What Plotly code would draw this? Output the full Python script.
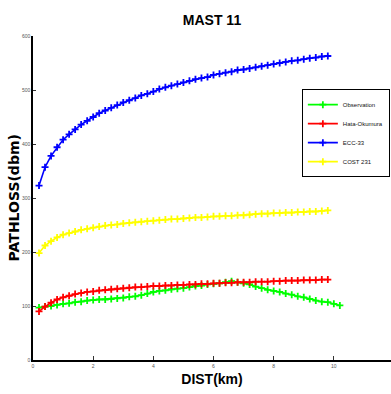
import plotly.graph_objects as go

# Distance grids (km)
dist_obs = [round(0.2 * i, 1) for i in range(1, 52)]      # 0.2 .. 10.2
dist_model = [round(0.2 * i, 1) for i in range(1, 50)]    # 0.2 .. 9.8

# Path loss values (dBm)
observation = [97, 99, 100, 102, 104, 105, 107, 108, 110, 111,
               112, 112, 113, 114, 115, 117, 118, 120, 123, 126,
               128, 129, 131, 132, 133, 135, 137, 138, 140, 141,
               142, 144, 146, 144, 142, 140, 136, 133, 130, 128,
               126, 123, 121, 118, 116, 113, 110, 108, 107, 104, 101]
hata_okumura = [90, 99, 106, 112, 116, 119, 122, 124, 126, 127,
                129, 130, 131, 132, 133, 134, 135, 135, 136, 137,
                137, 138, 138, 139, 139, 140, 140, 141, 141, 142,
                142, 143, 143, 144, 144, 144, 145, 145, 145, 146,
                146, 147, 147, 147, 148, 148, 148, 149, 149]
ecc33 = [323, 357, 378, 394, 408, 418, 427, 436, 443, 450,
         457, 462, 467, 472, 477, 481, 485, 490, 493, 497,
         502, 505, 508, 511, 514, 517, 520, 522, 524, 528,
         530, 532, 534, 537, 538, 540, 542, 544, 546, 548,
         550, 552, 554, 555, 557, 559, 560, 562, 563]
cost231 = [198, 212, 220, 227, 232, 235, 238, 241, 243, 245,
           247, 249, 250, 251, 253, 254, 255, 256, 257, 258,
           259, 260, 261, 261, 262, 263, 264, 264, 265, 266,
           266, 267, 267, 268, 268, 269, 270, 271, 271, 272,
           272, 273, 273, 274, 274, 275, 275, 276, 277]

series = [
    ("Observation", dist_obs, observation, "#00ff00"),
    ("Hata-Okumura", dist_model, hata_okumura, "#ff0000"),
    ("ECC-33", dist_model, ecc33, "#0000ff"),
    ("COST 231", dist_model, cost231, "#ffff00"),
]

HEAD = "Liberation Sans Narrow, Arial Narrow, Liberation Sans, Arial, sans-serif"

fig = go.Figure()
for name, xs, ys, color in series:
    fig.add_trace(go.Scatter(
        x=xs, y=ys, name=name, mode="lines+markers",
        line=dict(color=color, width=1.6),
        marker=dict(symbol="cross-thin", size=5, color=color,
                    line=dict(color=color, width=1.8)),
    ))

# Rotated y-axis label placed just left of the tick labels
fig.add_annotation(
    text="<b>PATHLOSS(dbm)</b>", textangle=-90,
    xref="paper", yref="paper", x=-0.052, y=0.5,
    xanchor="center", yanchor="middle", showarrow=False,
    font=dict(family="DejaVu Sans", size=14, color="black"),
)

fig.update_layout(
    width=391, height=394,
    margin=dict(l=33, r=0, t=36, b=34),
    paper_bgcolor="white", plot_bgcolor="white",
    title=dict(text="<b>MAST 11</b>", x=0.5, xref="paper",
               y=1 - 20 / 394, yanchor="middle",
               font=dict(family=HEAD, size=14, color="black")),
    showlegend=True,
    legend=dict(x=0.751, y=0.836, xanchor="left", yanchor="top",
                bgcolor="white", bordercolor="black", borderwidth=1,
                font=dict(family=HEAD, size=6, color="#111"),
                itemwidth=30, tracegroupgap=0),
    xaxis=dict(
        range=[0, 11.9], tick0=0, dtick=2, showgrid=False, zeroline=False,
        showline=True, linecolor="black", linewidth=1.5,
        ticks="inside", ticklen=4, tickwidth=1, tickcolor="#333",
        tickfont=dict(family="Liberation Sans", size=5, color="#555"),
        title=dict(text="<b>DIST(km)</b>", standoff=6,
                   font=dict(family=HEAD, size=14, color="black")),
    ),
    yaxis=dict(
        range=[0, 600], tick0=0, dtick=100, showgrid=False, zeroline=False,
        showline=True, linecolor="black", linewidth=1.5,
        ticks="inside", ticklen=3, tickwidth=1, tickcolor="#333",
        tickfont=dict(family="Liberation Sans", size=5, color="#555"),
    ),
)

fig.write_html("out.html")
